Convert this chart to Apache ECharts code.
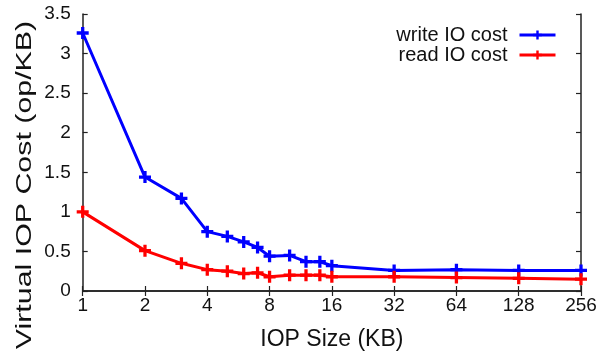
<!DOCTYPE html>
<html><head><meta charset="utf-8">
<script src="https://cdn.jsdelivr.net/npm/echarts@6/dist/echarts.min.js"></script>
<style>html,body{margin:0;padding:0;background:#fff}#c{width:609px;height:356px}</style>
</head><body><div id="c"></div>
<script>
const iopSizes = [1, 2, 3, 4, 5, 6, 7, 8, 10, 12, 14, 16, 32, 64, 128, 256];
const writeCost = [3.26, 1.44, 1.17, 0.75, 0.69, 0.62, 0.55, 0.44, 0.45, 0.37, 0.37, 0.32, 0.26, 0.27, 0.26, 0.26];
const readCost = [1.00, 0.51, 0.35, 0.27, 0.25, 0.22, 0.23, 0.18, 0.20, 0.20, 0.20, 0.18, 0.18, 0.17, 0.16, 0.15];
const xTicks = [1, 2, 4, 8, 16, 32, 64, 128, 256];
const seriesNames = ['write IO cost', 'read IO cost'];
const xTitle = 'IOP Size (KB)';
const yTitle = 'Virtual IOP Cost (op/KB)';

const FONT = '"Liberation Sans", Arial, Helvetica, sans-serif';
const plus = 'path://M4,0H7V4H11V7H7V11H4V7H0V4H4Z';
const axisCol = '#222';
const colors = ['#0000ff', '#ff0000'];

const chart = echarts.init(document.getElementById('c'));
const mkSeries = (name, vals, color) => ({
  name, type: 'line', xAxisIndex: 0, yAxisIndex: 0,
  data: iopSizes.map((s, i) => [s, vals[i]]),
  symbol: plus, symbolSize: 12,
  lineStyle: {color, width: 3},
  itemStyle: {color},
  animation: false
});
const tickCommon = {show: true, inside: true, length: 5, lineStyle: {color: axisCol, width: 1.2}};
chart.setOption({
  animation: false,
  textStyle: {fontFamily: FONT},
  grid: {left: 82.7, right: 28, top: 14, bottom: 63.5, containLabel: false},
  legend: {
    data: seriesNames.map((n, i) => ({name: n, itemStyle: {color: colors[i]}, lineStyle: {color: colors[i], width: 3}})),
    right: 47, top: 20, orient: 'vertical', align: 'right',
    itemWidth: 36, itemHeight: 11, itemGap: 0,
    textStyle: {fontFamily: FONT, fontSize: 20, color: '#111', padding: [0, 7, 0, 0]}
  },
  xAxis: [{
    type: 'log', logBase: 2, min: 1, max: 256, splitNumber: 8,
    axisLine: {show: true, lineStyle: {color: axisCol, width: 1.5}},
    axisTick: tickCommon, splitLine: {show: false}, minorTick: {show: false},
    axisLabel: {fontFamily: FONT, fontSize: 19, color: '#111', margin: 5,
      formatter: v => (xTicks.includes(Math.round(v)) ? String(Math.round(v)) : '')},
    name: xTitle, nameLocation: 'middle', nameGap: 37,
    nameTextStyle: {fontFamily: FONT, fontSize: 23, color: '#111'}
  }, {
    type: 'log', logBase: 2, min: 1, max: 256, splitNumber: 8, position: 'top',
    axisLine: {show: true, lineStyle: {color: axisCol, width: 1.5}},
    axisTick: tickCommon, splitLine: {show: false}, axisLabel: {show: false}
  }],
  yAxis: [{
    type: 'value', min: 0, max: 3.5, interval: 0.5,
    axisLine: {show: true, lineStyle: {color: axisCol, width: 1.5}},
    axisTick: tickCommon, splitLine: {show: false},
    axisLabel: {fontFamily: FONT, fontSize: 19, color: '#111', margin: 12}
  }, {
    type: 'value', min: 0, max: 3.5, interval: 0.5, position: 'right',
    axisLine: {show: true, lineStyle: {color: axisCol, width: 1.5}},
    axisTick: tickCommon, splitLine: {show: false}, axisLabel: {show: false}
  }],
  graphic: [{
    type: 'text', x: 25, y: 185, rotation: Math.PI / 2, scaleX: 1.38, scaleY: 1,
    style: {text: yTitle, fontFamily: FONT, fontSize: 22, fill: '#111',
      align: 'center', verticalAlign: 'middle'}
  }],
  series: [
    mkSeries(seriesNames[0], writeCost, colors[0]),
    mkSeries(seriesNames[1], readCost, colors[1])
  ]
});
</script></body></html>
